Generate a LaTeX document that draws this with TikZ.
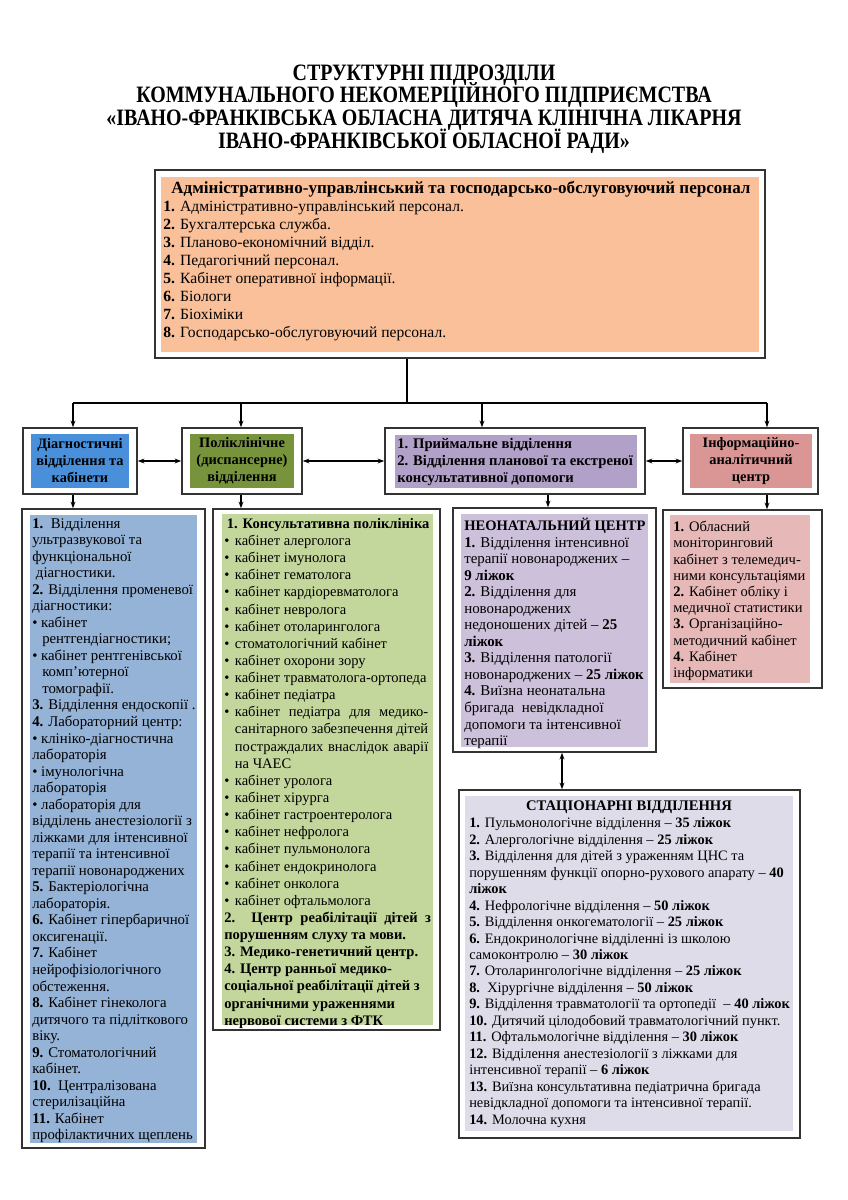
\documentclass[tikz,border=0pt]{standalone}
\usepackage{fontspec}
\setmainfont{Liberation Serif}
\newfontfamily\titlefont{Liberation Serif}[FakeStretch=0.85]
\usetikzlibrary{arrows.meta,fit}
\definecolor{cTop}{HTML}{FAC09A}
\definecolor{cDiagH}{HTML}{4A8FDA}
\definecolor{cDiagC}{HTML}{95B3D7}
\definecolor{cPolH}{HTML}{77933C}
\definecolor{cPolC}{HTML}{C3D69B}
\definecolor{cMidH}{HTML}{B1A0C7}
\definecolor{cNeo}{HTML}{CCC0DA}
\definecolor{cInfH}{HTML}{DA9694}
\definecolor{cInfC}{HTML}{E6B8B7}
\definecolor{cStat}{HTML}{DFDCEA}
\definecolor{cLine}{HTML}{333333}
\begin{document}
\begin{tikzpicture}[x=0.75pt,y=-0.75pt,
  frame/.style={draw=cLine, line width=1.1pt, fill=white, inner sep=0pt, rectangle},
  conn/.style={draw=black, line width=0.8pt},
  arr/.style={conn, -{Stealth[length=5pt,width=3.6pt]}},
  darr/.style={conn, {Stealth[length=5pt,width=3.6pt]}-{Stealth[length=5pt,width=3.6pt]}},
  txt/.style={anchor=north west, inner sep=0pt, align=left, font=\fontsize{11.1pt}{12.4pt}\selectfont},
  hdr/.style={inner sep=0pt, align=center, font=\fontsize{10.8pt}{12.75pt}\selectfont\bfseries},
  ttl/.style={inner sep=0pt, anchor=base, font=\titlefont\fontsize{17.6pt}{18pt}\selectfont\bfseries}]
\useasboundingbox (0,0) rectangle (848,1200);

% title
\node[ttl] (title1) at (424,80) {СТРУКТУРНІ ПІДРОЗДІЛИ};
\node[ttl] (title2) at (424,102.5) {КОММУНАЛЬНОГО НЕКОМЕРЦІЙНОГО ПІДПРИЄМСТВА};
\node[ttl] (title3) at (424,125.5) {«ІВАНО-ФРАНКІВСЬКА ОБЛАСНА ДИТЯЧА КЛІНІЧНА ЛІКАРНЯ};
\node[ttl] (title4) at (424,148.5) {ІВАНО-ФРАНКІВСЬКОЇ ОБЛАСНОЇ РАДИ»};

% top box
\node[frame, fit={(155,170)(765,358)}] (top) {};
\fill[cTop] (161,177) rectangle (759,352);
\node[anchor=base, inner sep=0pt, font=\fontsize{12.8pt}{13.5pt}\selectfont\bfseries] (topT) at (461,193)
 {Адміністративно-управлінський та господарсько-обслуговуючий персонал};
\node[txt, font=\fontsize{11.7pt}{13.5pt}\selectfont] (topL) at (163,201)
 {\textbf{1.} Адміністративно-управлінський персонал.\\
  \textbf{2.} Бухгалтерська служба.\\
  \textbf{3.} Планово-економічний відділ.\\
  \textbf{4.} Педагогічний персонал.\\
  \textbf{5.} Кабінет оперативної інформації.\\
  \textbf{6.} Біологи\\
  \textbf{7.} Біохіміки\\
  \textbf{8.} Господарсько-обслуговуючий персонал.};

% header boxes
\node[frame, fit={(23,428)(137,494)}] (diagH) {};
\fill[cDiagH] (31,434) rectangle (129,488);
\node[hdr] (diagHT) at (80,461) {Діагностичні\\відділення та\\кабінети};

\node[frame, fit={(182,428)(302,494)}] (polH) {};
\fill[cPolH] (190,434) rectangle (294,488);
\node[hdr] (polHT) at (242,461) {Поліклінічне\\(диспансерне)\\відділення};

\node[frame, fit={(385,428)(645,494)}] (midH) {};
\fill[cMidH] (395,435) rectangle (637,488);
\node[hdr, align=left, anchor=west, font=\fontsize{11pt}{12.75pt}\selectfont\bfseries] (midHT) at (397,461.5) {1. Приймальне відділення\\2. Відділення планової та екстреної\\консультативної допомоги};

\node[frame, fit={(683,428)(818,494)}] (infH) {};
\fill[cInfH] (690,434) rectangle (812,488);
\node[hdr] (infHT) at (751,461) {Інформаційно-\\аналітичний\\центр};

% content boxes
\node[frame, fit={(22,509)(205,1148)}] (diagC) {};
\fill[cDiagC] (30,515) rectangle (197,1143);
\node[txt] (diagCT) at (32,518)
 {\textbf{1.}\ \ Відділення\\
  ультразвукової та\\
  функціональної\\
  \ діагностики.\\
  \textbf{2.} Відділення променевої\\
  діагностики:\\
  • кабінет\\
  \hspace*{7.5pt}рентгендіагностики;\\
  • кабінет рентгенівської\\
  \hspace*{7.5pt}комп’ютерної\\
  \hspace*{7.5pt}томографії.\\
  \textbf{3.} Відділення ендоскопії .\\
  \textbf{4.} Лабораторний центр:\\
  • клініко-діагностична\\
  лабораторія\\
  • імунологічна\\
  лабораторія\\
  • лабораторія для\\
  відділень анестезіології з\\
  ліжками для інтенсивної\\
  терапії та інтенсивної\\
  терапії новонароджених\\
  \textbf{5.} Бактеріологічна\\
  лабораторія.\\
  \textbf{6.} Кабінет гіпербаричної\\
  оксигенації.\\
  \textbf{7.} Кабінет\\
  нейрофізіологічного\\
  обстеження.\\
  \textbf{8.} Кабінет гінеколога\\
  дитячого та підліткового\\
  віку.\\
  \textbf{9.} Стоматологічний\\
  кабінет.\\
  \textbf{10.}\ \ Централізована\\
  стерилізаційна\\
  \textbf{11.} Кабінет\\
  профілактичних щеплень};

\node[frame, fit={(213,509)(440,1030)}] (polC) {};
\fill[cPolC] (222,514) rectangle (433,1025);
\node[txt, font=\fontsize{10.9pt}{12.85pt}\selectfont] (polCT) at (224,518)
 {\hspace*{2pt}\textbf{1. Консультативна поліклініка}\\
  \makebox[8pt][l]{•}кабінет алерголога\\
  \makebox[8pt][l]{•}кабінет імунолога\\
  \makebox[8pt][l]{•}кабінет гематолога\\
  \makebox[8pt][l]{•}кабінет кардіоревматолога\\
  \makebox[8pt][l]{•}кабінет невролога\\
  \makebox[8pt][l]{•}кабінет отоларинголога\\
  \makebox[8pt][l]{•}стоматологічний кабінет\\
  \makebox[8pt][l]{•}кабінет охорони зору\\
  \makebox[8pt][l]{•}кабінет травматолога-ортопеда\\
  \makebox[8pt][l]{•}кабінет педіатра\\
  \makebox[8pt][l]{•}\makebox[145pt][s]{кабінет педіатра для медико-}\\
  \hspace*{8pt}\makebox[145pt][s]{санітарного забезпечення дітей}\\
  \hspace*{8pt}\makebox[145pt][s]{постраждалих внаслідок аварії}\\
  \hspace*{8pt}на ЧАЕС\\
  \makebox[8pt][l]{•}кабінет уролога\\
  \makebox[8pt][l]{•}кабінет хірурга\\
  \makebox[8pt][l]{•}кабінет гастроентеролога\\
  \makebox[8pt][l]{•}кабінет нефролога\\
  \makebox[8pt][l]{•}кабінет пульмонолога\\
  \makebox[8pt][l]{•}кабінет ендокринолога\\
  \makebox[8pt][l]{•}кабінет онколога\\
  \makebox[8pt][l]{•}кабінет офтальмолога\\
  \bfseries\makebox[155pt][s]{2. Центр реабілітації дітей з}\\
  \bfseries порушенням слуху та мови.\\
  \bfseries 3. Медико-генетичний центр.\\
  \bfseries 4. Центр ранньої медико-\\
  \bfseries соціальної реабілітації дітей з\\
  \bfseries органічними ураженнями\\
  \bfseries нервової системи з ФТК};

\node[frame, fit={(453,508)(656,752)}] (neo) {};
\fill[cNeo] (461,514) rectangle (648,747);
\node[txt, font=\fontsize{11.2pt}{12.4pt}\selectfont] (neoT) at (464,518)
 {{\fontsize{10.9pt}{12.4pt}\selectfont\textbf{НЕОНАТАЛЬНИЙ ЦЕНТР}}\\
  \textbf{1.} Відділення інтенсивної\\
  терапії новонароджених –\\
  \textbf{9 ліжок}\\
  \textbf{2.} Відділення для\\
  новонароджених\\
  недоношених дітей – \textbf{25}\\
  \textbf{ліжок}\\
  \textbf{3.} Відділення патології\\
  новонароджених – \textbf{25 ліжок}\\
  \textbf{4.} Виїзна неонатальна\\
  бригада\ \ невідкладної\\
  допомоги та інтенсивної\\
  терапії};

\node[frame, fit={(663,510)(822,688)}] (infC) {};
\fill[cInfC] (670,515) rectangle (810,683);
\node[txt, font=\fontsize{10.9pt}{12.15pt}\selectfont] (infCT) at (673,521)
 {\textbf{1.} Обласний\\
  моніторинговий\\
  кабінет з телемедич-\\
  ними консультаціями\\
  \textbf{2.} Кабінет обліку і\\
  медичної статистики\\
  \textbf{3.} Організаційно-\\
  методичний кабінет\\
  \textbf{4.} Кабінет\\
  інформатики};

\node[frame, fit={(459,790)(800,1138)}] (stat) {};
\fill[cStat] (465,796) rectangle (793,1131);
\node[anchor=base, inner sep=0pt, font=\fontsize{11pt}{12.4pt}\selectfont\bfseries] (statT) at (629,810) {СТАЦІОНАРНІ ВІДДІЛЕННЯ};
\node[txt, font=\fontsize{10.8pt}{12.35pt}\selectfont] (statL) at (469,817.5)
 {\textbf{1.} Пульмонологічне відділення – \textbf{35 ліжок}\\
  \textbf{2.} Алергологічне відділення – \textbf{25 ліжок}\\
  \textbf{3.} Відділення для дітей з ураженням ЦНС та\\
  порушенням функції опорно-рухового апарату – \textbf{40}\\
  \textbf{ліжок}\\
  \textbf{4.} Нефрологічне відділення – \textbf{50 ліжок}\\
  \textbf{5.} Відділення онкогематології – \textbf{25 ліжок}\\
  \textbf{6.} Ендокринологічне відділенні із школою\\
  самоконтролю – \textbf{30 ліжок}\\
  \textbf{7.} Отоларингологічне відділення – \textbf{25 ліжок}\\
  \textbf{8.}\ \ Хірургічне відділення – \textbf{50 ліжок}\\
  \textbf{9.} Відділення травматології та ортопедії\ \ – \textbf{40 ліжок}\\
  \textbf{10.} Дитячий цілодобовий травматологічний пункт.\\
  \textbf{11.} Офтальмологічне відділення – \textbf{30 ліжок}\\
  \textbf{12.} Відділення анестезіології з ліжками для\\
  інтенсивної терапії – \textbf{6 ліжок}\\
  \textbf{13.} Виїзна консультативна педіатрична бригада\\
  невідкладної допомоги та інтенсивної терапії.\\
  \textbf{14.} Молочна кухня};

% connectors
\coordinate (bar) at (407,403);
\coordinate (barL) at (73,403);
\coordinate (b2) at (241,403);
\coordinate (b3) at (482,403);
\coordinate (barR) at (767,403);
\coordinate (nx) at (548,500);
\coordinate (sx) at (562,770);
\draw[conn] (top.south -| bar) -- (bar);
\draw[conn] (barL) -- (barR);
\draw[arr] (barL) -- (barL |- diagH.north);
\draw[arr] (b2) -- (b2 |- polH.north);
\draw[arr] (b3) -- (b3 |- midH.north);
\draw[arr] (barR) -- (barR |- infH.north);
\draw[darr] (diagH.east) -- (polH.west);
\draw[darr] (polH.east) -- (midH.west);
\draw[darr] (midH.east) -- (infH.west);
\draw[arr] (diagH.south -| barL) -- (diagC.north -| barL);
\draw[arr] (polH.south -| b2) -- (polC.north -| b2);
\draw[arr] (midH.south -| nx) -- (neo.north -| nx);
\draw[arr] (infH.south -| barR) -- (infC.north -| barR);
\draw[darr] (neo.south -| sx) -- (stat.north -| sx);
\end{tikzpicture}
\end{document}
